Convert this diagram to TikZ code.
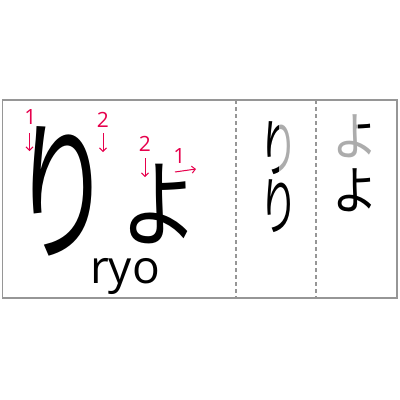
\documentclass[tikz,border=0pt]{standalone}
\usepackage{fontspec}
\setmainfont{Open Sans}
\newfontfamily\jpfont{Noto Sans CJK JP}
\usetikzlibrary{arrows.meta}
\definecolor{strokered}{RGB}{230,0,76}
\definecolor{framegray}{RGB}{150,150,150}
\definecolor{fadegray}{RGB}{172,172,172}
\tikzstyle{num}=[text=strokered, inner sep=0pt, font=\fontsize{21}{21}\selectfont]
\tikzstyle{order}=[strokered, line width=1pt, -{Straight Barb[length=3.5pt,width=7pt]}]
\tikzstyle{kana}=[inner sep=0pt, text=black, transform shape]
\tikzstyle{guide}=[framegray, line width=1.2pt, dash pattern=on 4pt off 3pt]

\begin{document}
\begin{tikzpicture}[x=1pt,y=-1pt]
				\useasboundingbox (0,0) rectangle (400,400);
				\draw[framegray, line width=1.5pt] (2.5,100) rectangle (397,298);
				\draw[guide] (236,100) -- (236,298);
				\draw[guide] (316,100) -- (316,298);
				% large syllable
				\node[kana, xscale=0.66, font=\jpfont\fontsize{154}{154}\selectfont] (ri) at (62,191) {り};
				\node[kana, xscale=0.82, font=\jpfont\fontsize{96}{96}\selectfont] (yo) at (160,204) {よ};
				\node[kana, anchor=base, font=\fontsize{46}{46}\selectfont] (ryo) at (125,283) {ryo};
				% stroke order
				\node[num] (ri1) at (30.5,117) {1};
				\node[num] (ri2) at (103,119.5) {2};
				\node[num] (yo2) at (145,143.5) {2};
				\node[num] (yo1) at (179.5,155.5) {1};
				\coordinate (ri1s) at (29.5,133);
				\coordinate (ri1e) at (29.5,151);
				\coordinate (ri2s) at (103,133);
				\coordinate (ri2e) at (103,152);
				\coordinate (yo2s) at (145,158);
				\coordinate (yo2e) at (145,177);
				\coordinate (yo1s) at (175,172);
				\coordinate (yo1e) at (196,169);
				\draw[order] (ri1s) -- (ri1e);
				\draw[order] (ri2s) -- (ri2e);
				\draw[order] (yo2s) -- (yo2e);
				\draw[order] (yo1s) -- (yo1e);
				% practice columns
				\node[kana, xscale=0.62, text=fadegray, font=\jpfont\fontsize{63}{63}\selectfont] (riA) at (279.5,148) {り};
				\begin{scope}
					\clip (250,110) rectangle (278,180);
					\node[kana, xscale=0.62, font=\jpfont\fontsize{63}{63}\selectfont] (riAk) at (279.5,148) {り};
				\end{scope}
				\node[kana, xscale=0.62, font=\jpfont\fontsize{63}{63}\selectfont] (riB) at (279.5,206) {り};
				\node[kana, xscale=0.88, text=fadegray, font=\jpfont\fontsize{52}{52}\selectfont] (yoA) at (355,136) {よ};
				\begin{scope}
					\clip (358,108) rectangle (385,130);
					\node[kana, xscale=0.88, font=\jpfont\fontsize{52}{52}\selectfont] (yoAk) at (355,136) {よ};
				\end{scope}
				\node[kana, xscale=0.88, font=\jpfont\fontsize{52}{52}\selectfont] (yoB) at (355,190) {よ};
			\end{tikzpicture}
\end{document}
